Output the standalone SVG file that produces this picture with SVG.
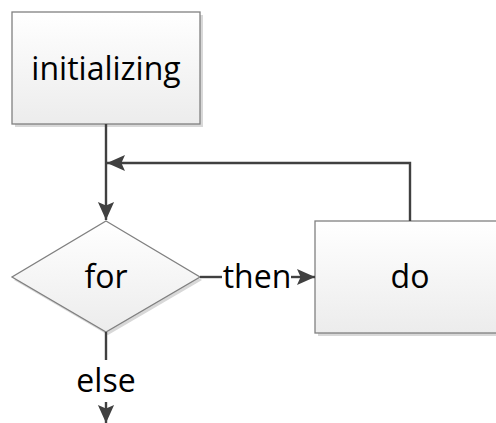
<svg xmlns="http://www.w3.org/2000/svg" width="496" height="423" viewBox="0 0 496 423">
<defs>
<linearGradient id="g" x1="0" y1="0" x2="0" y2="1">
<stop offset="0" stop-color="#ffffff"/>
<stop offset="1" stop-color="#ececec"/>
</linearGradient>
<marker id="ah" viewBox="0 0 20 20" refX="20" refY="10" markerWidth="18" markerHeight="18" markerUnits="userSpaceOnUse" orient="auto">
<path d="M0,1 L20,10 L0,19 L4,10 Z" fill="#404040"/>
</marker>
<style>
.box{fill:url(#g);stroke:#808080;stroke-width:1.3}
.sh{fill:#d8d8d8}
.ln{fill:none;stroke:#404040;stroke-width:2.4}
text{font-family:"Open Sans","Noto Sans",sans-serif;font-size:32px;fill:#000;text-anchor:middle}
</style>
</defs>
<g id="initializing">
<rect class="sh" x="15" y="15" width="188" height="112"/>
<rect class="box" x="12" y="12" width="188" height="112"/>
<text x="106" y="80">initializing</text>
</g>
<g id="for">
<polygon class="sh" points="108,224 202,280 108,335 14,280"/>
<polygon class="box" points="106,221 200,277 106,332 12,277"/>
<text x="106" y="288">for</text>
</g>
<g id="do">
<rect class="sh" x="318" y="224" width="188" height="112"/>
<rect class="box" x="315" y="221" width="188" height="112"/>
<text x="410" y="288">do</text>
</g>
<g id="connectors">
<path class="ln" d="M106,124 V220" marker-end="url(#ah)"/>
<path class="ln" d="M410,221 V163 H107" marker-end="url(#ah)"/>
<path class="ln" d="M200,277 H222"/>
<path class="ln" d="M291,277 H315" marker-end="url(#ah)"/>
<path class="ln" d="M106,332 V360"/>
<path class="ln" d="M106,402 V423" marker-end="url(#ah)"/>
<text x="257" y="288">then</text>
<text x="106" y="392">else</text>
</g>
</svg>
